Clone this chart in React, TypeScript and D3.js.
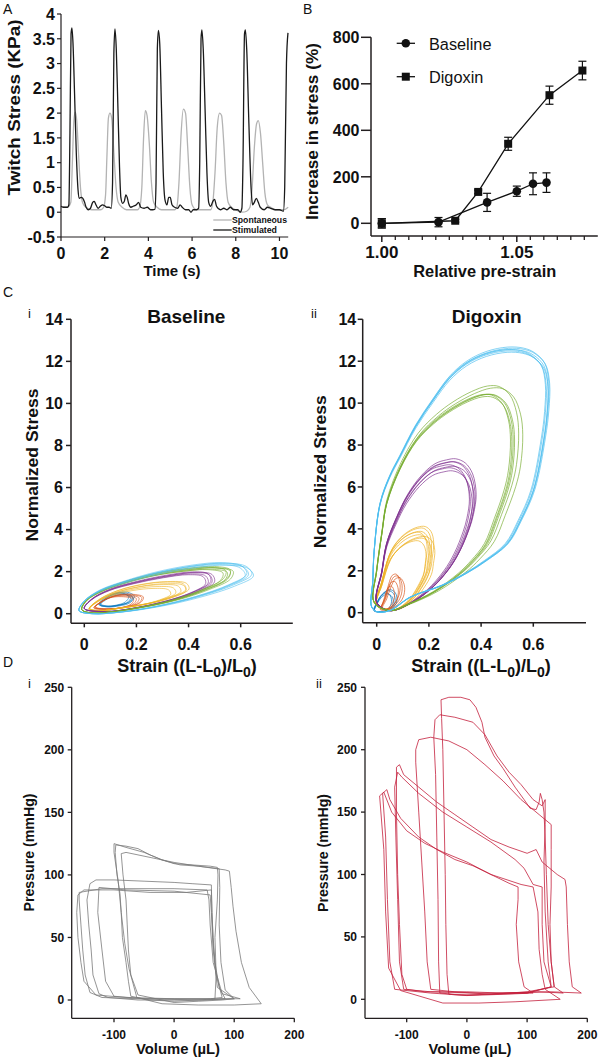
import React from "react";
import * as d3 from "d3";

type P = [number, number];
const FONT = "'Liberation Sans', Arial, Helvetica, sans-serif";
const AX = "#231f20";

// ---------------- Panel A: twitch stress traces ----------------
const aTimeTicks = [0, 2, 4, 6, 8, 10];
const aStressTicks = [-0.5, 0, 0.5, 1, 1.5, 2, 2.5, 3, 3.5, 4];
const aStimulated: P[] = [
  [0, 0.12], [0.1, 0.1], [0.3, 0.1], [0.36, 0.15], [0.41, 1.6], [0.46, 3.6], [0.5, 3.72], [0.55, 3.4], [0.62, 2.4], [0.7, 1.2], [0.78, 0.45], [0.84, 0.28], [0.92, 0.3], [1.0, 0.28], [1.08, 0.2], [1.15, 0.1], [1.25, 0.05], [1.35, 0.08], [1.45, 0.2], [1.52, 0.22], [1.6, 0.15], [1.7, 0.08], [1.8, 0.12], [1.9, 0.15], [2.0, 0.13], [2.1, 0.1], [2.2, 0.1], [2.3, 0.08],
  [2.36, 0.6], [2.42, 3.2], [2.47, 3.7], [2.53, 3.3], [2.6, 2.2], [2.68, 0.9], [2.74, 0.3], [2.82, 0.18], [2.9, 0.22], [2.97, 0.35], [3.03, 0.3], [3.1, 0.17], [3.2, 0.1], [3.3, 0.12], [3.45, 0.15], [3.55, 0.2], [3.65, 0.1], [3.8, 0.08], [3.95, 0.1], [4.1, 0.05], [4.2, 0.05], [4.3, 0.06],
  [4.35, 0.6], [4.41, 3.3], [4.46, 3.67], [4.52, 3.4], [4.6, 2.1], [4.68, 0.8], [4.76, 0.25], [4.85, 0.15], [4.93, 0.3], [5.0, 0.3], [5.08, 0.15], [5.2, 0.1], [5.35, 0.08], [5.45, 0.15], [5.55, 0.1], [5.7, 0.05], [5.85, 0.05], [5.95, 0.0], [6.05, 0.05], [6.2, 0.05], [6.3, 0.08],
  [6.35, 1.0], [6.41, 3.5], [6.45, 3.68], [6.51, 3.3], [6.6, 2.0], [6.68, 0.8], [6.76, 0.2], [6.85, 0.12], [6.95, 0.22], [7.03, 0.26], [7.12, 0.12], [7.3, 0.05], [7.45, 0.08], [7.6, 0.05], [7.75, 0.1], [7.9, 0.05], [8.1, 0.05], [8.2, 0.0], [8.28, 0.08],
  [8.33, 1.0], [8.4, 3.6], [8.44, 3.68], [8.5, 3.3], [8.6, 1.8], [8.7, 0.5], [8.77, 0.15], [8.85, 0.2], [8.94, 0.28], [9.03, 0.2], [9.12, 0.1], [9.3, 0.05], [9.45, 0.1], [9.6, 0.08], [9.8, 0.05], [10.0, 0.05], [10.18, 0.02],
  [10.24, 0.5], [10.32, 3.0], [10.39, 3.62],
];
const aSpontaneous: P[] = [
  [0, 0.12], [0.3, 0.1], [0.45, 0.2], [0.52, 1.0], [0.59, 1.85], [0.65, 2.02], [0.72, 1.85], [0.8, 1.2], [0.9, 0.45], [1.0, 0.18], [1.15, 0.1], [1.4, 0.05], [1.6, 0.05], [1.8, 0.05], [1.95, 0.1], [2.04, 0.35], [2.1, 1.1], [2.17, 1.9], [2.24, 2.0], [2.32, 1.9], [2.42, 1.2], [2.52, 0.5], [2.62, 0.2], [2.8, 0.1], [3.0, 0.05], [3.3, 0.05], [3.5, 0.05], [3.6, 0.1],
  [3.7, 0.5], [3.78, 1.5], [3.86, 2.05], [3.94, 1.95], [4.04, 1.4], [4.14, 0.6], [4.24, 0.2], [4.4, 0.1], [4.6, 0.05], [5.0, 0.05], [5.2, 0.05], [5.3, 0.1], [5.4, 0.6], [5.5, 1.6], [5.6, 2.08], [5.7, 2.0], [5.8, 1.3], [5.9, 0.5], [6.0, 0.15], [6.2, 0.05], [6.5, 0.05], [6.85, 0.05],
  [6.95, 0.2], [7.05, 0.8], [7.15, 1.7], [7.26, 2.0], [7.35, 1.95], [7.45, 1.4], [7.55, 0.6], [7.65, 0.2], [7.8, 0.1], [8.0, 0.05], [8.3, 0.0], [8.5, 0.02], [8.65, 0.1], [8.75, 0.5], [8.85, 1.3], [8.95, 1.78], [9.03, 1.85], [9.13, 1.6], [9.23, 1.0], [9.33, 0.4], [9.45, 0.15], [9.6, 0.1], [9.8, 0.05], [10.0, 0.05], [10.2, 0.05], [10.4, 0.1],
];

// ---------------- Panel B: increase in stress ----------------
const bStrainTicksMajor = [1.0, 1.05];
const bStrainTicksMinor = [1.005, 1.01, 1.015, 1.02, 1.025, 1.03, 1.035, 1.04, 1.045, 1.055, 1.06, 1.065, 1.07, 1.075];
const bStressTicks = [0, 200, 400, 600, 800];
const bBaseStrain = [1.0, 1.021, 1.039, 1.05, 1.056, 1.061];
const bBaseStress = [0, 5, 90, 138, 170, 175];
const bBaseErr = [20, 20, 39, 22, 47, 42];
const bDigStrain = [1.0, 1.0272, 1.0357, 1.0468, 1.0621, 1.0743];
const bDigStress = [0, 11, 135, 342, 551, 657];
const bDigErr = [20, 6, 8, 28, 39, 40];

// ---------------- Panel C: stress-strain loops ----------------
const cColors = ["#0072BD", "#D95319", "#EDB120", "#7E2F8E", "#77AC30", "#4DBEEE"];
const cStressTicks = [0, 2, 4, 6, 8, 10, 12, 14];
const cStrainTicks = [0, 0.2, 0.4, 0.6];
// Baseline loops (blue, red, yellow, purple, green, cyan)
const cBaseBlue: P[] = [[0.06, 0.45], [0.085, 0.75], [0.12, 0.95], [0.16, 0.98], [0.185, 0.8], [0.17, 0.55], [0.13, 0.4], [0.09, 0.35]];
const cBaseRed: P[] = [[0.04, 0.3], [0.07, 0.6], [0.11, 0.82], [0.16, 0.88], [0.21, 0.75], [0.2, 0.5], [0.15, 0.3], [0.08, 0.22]];
const cBaseYellow: P[] = [[0.02, 0.25], [0.06, 0.7], [0.13, 1.1], [0.22, 1.38], [0.31, 1.5], [0.38, 1.42], [0.39, 1.15], [0.34, 0.82], [0.25, 0.5], [0.15, 0.3], [0.06, 0.15]];
const cBasePurple: P[] = [[0.0, 0.25], [0.03, 0.7], [0.1, 1.15], [0.2, 1.5], [0.32, 1.8], [0.42, 1.95], [0.48, 1.85], [0.49, 1.5], [0.43, 1.05], [0.32, 0.6], [0.2, 0.28], [0.08, 0.1]];
const cBaseGreen: P[] = [[-0.01, 0.2], [0.01, 0.65], [0.07, 1.1], [0.16, 1.5], [0.28, 1.88], [0.4, 2.1], [0.5, 2.18], [0.56, 2.02], [0.55, 1.65], [0.47, 1.15], [0.35, 0.65], [0.22, 0.3], [0.1, 0.08], [0.02, 0.05]];
const cBaseCyan: P[] = [[-0.02, 0.15], [0.0, 0.6], [0.06, 1.1], [0.15, 1.5], [0.28, 1.95], [0.42, 2.27], [0.53, 2.38], [0.61, 2.22], [0.63, 1.85], [0.56, 1.35], [0.43, 0.8], [0.28, 0.35], [0.14, 0.08], [0.03, 0.0]];
const cBaseCycles: P[][] = [
  [[1, 1], [0.96, 0.95], [1.04, 1.04], [0.92, 1.0], [1.02, 0.92]],
  [[1, 1], [0.95, 0.96], [1.05, 1.03], [0.9, 0.92], [1.08, 1.06]],
  [[1, 1], [0.95, 0.92], [1.03, 1.02], [0.9, 0.86], [0.85, 0.8], [1.0, 0.95]],
  [[1, 1], [0.97, 0.97], [1.02, 1.01], [0.95, 0.95], [0.99, 1.02]],
  [[1, 1], [0.98, 0.97], [1.02, 1.0], [0.95, 0.96], [1.0, 1.03], [0.97, 1.01]],
  [[1, 1], [0.98, 0.98], [1.02, 1.01], [1.03, 0.97], [0.99, 1.02]],
];
// Digoxin loops
const cDigBlue: P[] = [[-0.01, 0.1], [0.0, 0.45], [0.02, 0.85], [0.045, 1.05], [0.065, 0.9], [0.07, 0.5], [0.05, 0.15], [0.02, 0.05]];
const cDigRed: P[] = [[0.02, 0.2], [0.035, 0.7], [0.05, 1.3], [0.065, 1.7], [0.082, 1.75], [0.096, 1.4], [0.095, 0.9], [0.08, 0.5], [0.05, 0.2]];
const cDigYellow: P[] = [[0.0, 0.4], [0.02, 1.5], [0.051, 2.83], [0.08, 3.4], [0.115, 3.79], [0.15, 4.0], [0.179, 4.03], [0.2, 3.8], [0.21, 3.3], [0.205, 2.6], [0.198, 2.04], [0.17, 1.3], [0.13, 0.6], [0.07, 0.15]];
const cDigPurple: P[] = [[0.0, 0.5], [0.02, 2.0], [0.038, 3.3], [0.075, 4.5], [0.115, 5.53], [0.165, 6.4], [0.217, 6.97], [0.26, 7.15], [0.294, 7.2], [0.33, 7.0], [0.357, 6.49], [0.37, 5.53], [0.36, 4.6], [0.345, 3.95], [0.31, 2.9], [0.268, 2.04], [0.2, 1.1], [0.12, 0.4], [0.05, 0.1]];
const cDigGreen: P[] = [[-0.01, 0.5], [0.0, 2.0], [0.02, 3.8], [0.038, 5.2], [0.09, 6.9], [0.153, 8.24], [0.22, 9.1], [0.281, 9.67], [0.35, 10.15], [0.408, 10.4], [0.45, 10.38], [0.49, 10.0], [0.515, 9.2], [0.523, 8.24], [0.515, 6.8], [0.498, 5.85], [0.46, 4.5], [0.421, 3.3], [0.37, 2.5], [0.319, 1.88], [0.22, 1.0], [0.12, 0.4], [0.05, 0.1]];
const cDigCyan: P[] = [[-0.02, 0.3], [-0.015, 1.5], [-0.01, 2.9], [0.013, 5.2], [0.05, 6.5], [0.089, 7.45], [0.15, 8.9], [0.217, 10.15], [0.28, 11.2], [0.345, 11.9], [0.42, 12.35], [0.5, 12.55], [0.56, 12.5], [0.6, 12.3], [0.64, 11.8], [0.656, 10.9], [0.653, 9.6], [0.64, 8.3], [0.6, 5.85], [0.55, 4.4], [0.5, 3.3], [0.42, 2.5], [0.345, 1.9], [0.25, 1.3], [0.13, 0.75], [0.05, 0.1], [0.0, 0.05]];
const cDigCycles: P[][] = [
  [[1, 1], [0.9, 0.85], [1.1, 1.05], [0.8, 0.9]],
  [[1, 1], [0.85, 0.85], [0.7, 0.72], [1.1, 0.95], [0.92, 1.05]],
  [[1, 1], [0.95, 0.92], [1.04, 1.02], [0.9, 0.85], [0.97, 0.96], [1.06, 0.9], [0.92, 0.95], [1.0, 0.88]],
  [[1, 1], [0.97, 0.96], [1.02, 1.0], [0.99, 0.94], [1.03, 1.02], [0.96, 0.98], [1.01, 0.97]],
  [[1, 1], [0.99, 0.99], [1.01, 1.0], [0.98, 1.0], [1.04, 1.04], [1.07, 1.03]],
  [[1, 1], [0.99, 0.995], [1.01, 1.005], [0.985, 1.0], [1.0, 0.99], [1.005, 1.01]],
];

// ---------------- Panel D: pressure-volume loops ----------------
const dPressTicks = [0, 50, 100, 150, 200, 250];
const dVolTicks = [-100, 0, 100, 200];
const dBaseLoops: P[][] = [
  [[-72, 3], [-40, 0], [0, -1], [40, 0], [68, 1], [70, 20], [68, 50], [72, 80], [73, 100], [72, 106], [60, 107], [30, 108], [0, 109], [-20, 112], [-40, 116], [-60, 121], [-80, 123], [-97, 124], [-98, 118], [-95, 100], [-90, 85], [-88, 70], [-86, 50], [-80, 30], [-76, 15], [-72, 3]],
  [[-62, 2], [-20, -3], [40, -4], [100, -4], [145, -3], [125, 10], [112, 30], [103, 55], [98, 75], [95, 90], [92, 103], [85, 104], [70, 105], [40, 107], [10, 108], [-20, 112], [-50, 118], [-80, 122], [-100, 125], [-100, 118], [-93, 95], [-88, 70], [-82, 45], [-75, 25], [-62, 2]],
  [[-60, 4], [0, -2], [40, -1], [80, 0], [100, 1], [85, 8], [78, 30], [75, 60], [76, 90], [75, 105], [40, 107], [0, 110], [-40, 114], [-80, 118], [-88, 117], [-85, 100], [-80, 80], [-78, 60], [-76, 40], [-72, 20], [-60, 4]],
  [[-110, 2], [-60, 0], [0, 0], [50, 0], [85, 1], [75, 10], [68, 30], [65, 50], [63, 70], [62, 92], [30, 93], [0, 94], [-50, 95], [-100, 96], [-130, 96], [-140, 93], [-145, 80], [-142, 60], [-138, 40], [-135, 20], [-125, 5], [-110, 2]],
  [[-120, 2], [-60, 1], [0, 1], [60, 1], [110, 1], [80, 5], [65, 30], [60, 60], [58, 80], [55, 88], [0, 89], [-60, 89], [-120, 89], [-158, 86], [-158, 80], [-155, 60], [-152, 40], [-148, 20], [-140, 6], [-120, 2]],
  [[-130, 4], [-80, 2], [0, 1], [60, 1], [80, 2], [70, 20], [65, 45], [63, 70], [62, 88], [20, 86], [-40, 86], [-100, 88], [-150, 88], [-160, 84], [-162, 70], [-160, 50], [-155, 30], [-150, 15], [-130, 4]],
  [[-100, 3], [-50, 1], [50, 0], [100, 1], [72, 10], [65, 40], [62, 70], [60, 84], [0, 87], [-80, 88], [-125, 90], [-127, 70], [-120, 40], [-114, 15], [-100, 3]],
];
const dDigLoops: P[][] = [
  [[-30, 4], [0, 3], [60, 5], [120, 6], [160, 5], [145, 10], [140, 30], [135, 60], [132, 100], [130, 130], [128, 150], [125, 160], [122, 165], [120, 158], [115, 152], [105, 153], [95, 160], [80, 170], [60, 185], [45, 195], [30, 210], [25, 222], [15, 234], [5, 240], [-10, 242], [-30, 242], [-43, 240], [-42, 225], [-40, 200], [-38, 150], [-36, 100], [-35, 60], [-33, 20], [-30, 4]],
  [[-45, 5], [-20, 4], [40, 4], [100, 5], [140, 10], [135, 30], [130, 70], [128, 110], [130, 140], [130, 160], [125, 155], [110, 160], [90, 172], [70, 182], [50, 195], [30, 212], [10, 222], [-20, 226], [-45, 228], [-53, 224], [-55, 210], [-52, 180], [-50, 130], [-48, 80], [-47, 30], [-45, 5]],
  [[-60, 8], [-20, 6], [40, 4], [100, 6], [145, 10], [140, 30], [138, 60], [140, 90], [140, 120], [140, 140], [120, 148], [90, 160], [60, 175], [30, 188], [0, 200], [-30, 207], [-60, 210], [-80, 208], [-85, 200], [-85, 190], [-80, 150], [-75, 110], [-70, 70], [-66, 30], [-60, 8]],
  [[-100, 8], [-70, 6], [0, 6], [60, 5], [140, 6], [190, 5], [175, 10], [170, 30], [167, 60], [165, 90], [163, 96], [150, 100], [125, 110], [115, 120], [100, 117], [70, 122], [40, 128], [10, 138], [-20, 148], [-50, 158], [-80, 170], [-105, 180], [-112, 188], [-117, 186], [-117, 150], [-115, 100], [-112, 60], [-108, 20], [-100, 8]],
  [[-105, 8], [-60, 6], [20, 5], [100, 5], [140, 10], [128, 30], [125, 60], [125, 90], [110, 92], [95, 105], [80, 112], [40, 126], [0, 138], [-40, 150], [-80, 165], [-108, 178], [-115, 182], [-120, 170], [-118, 130], [-115, 80], [-112, 30], [-105, 8]],
  [[-120, 8], [-60, 5], [0, 3], [60, 4], [110, 5], [95, 10], [86, 30], [82, 60], [85, 80], [85, 90], [70, 93], [40, 100], [10, 107], [-20, 112], [-50, 120], [-80, 130], [-110, 145], [-128, 160], [-133, 168], [-140, 165], [-135, 130], [-132, 80], [-128, 30], [-120, 8]],
  [[-110, 7], [-40, -3], [20, -3], [80, -2], [155, 0], [130, 8], [125, 20], [120, 40], [118, 70], [110, 90], [90, 92], [40, 100], [0, 110], [-40, 118], [-70, 125], [-100, 135], [-125, 150], [-138, 166], [-145, 163], [-138, 120], [-135, 70], [-130, 25], [-110, 7]],
];

// ---------------- helpers ----------------
type Scale = d3.ScaleLinear<number, number>;

function LeftAxis(props: { scale: Scale; x: number; ticks: number[]; y0: number; y1: number; fs: number; tl: number; gap: number; sw: number; fmt?: (v: number) => string }) {
  const { scale, x, ticks, y0, y1, fs, tl, gap, sw } = props;
  const fmt = props.fmt || ((v: number) => String(v));
  return (
    <g>
      <line x1={x} x2={x} y1={y0} y2={y1} stroke={AX} strokeWidth={sw} />
      {ticks.map((t) => (
        <g key={t}>
          <line x1={x - tl} x2={x} y1={scale(t)} y2={scale(t)} stroke={AX} strokeWidth={sw} />
          <text x={x - tl - gap} y={scale(t)} dy="0.36em" textAnchor="end" fontSize={fs} fontWeight="bold" fontFamily={FONT} fill="#111">{fmt(t)}</text>
        </g>
      ))}
    </g>
  );
}

function BottomAxis(props: { scale: Scale; y: number; ticks: number[]; x0: number; x1: number; fs: number; tl: number; labelY: number; sw: number; fmt?: (v: number) => string }) {
  const { scale, y, ticks, x0, x1, fs, tl, labelY, sw } = props;
  const fmt = props.fmt || ((v: number) => String(v));
  return (
    <g>
      <line x1={x0} x2={x1} y1={y} y2={y} stroke={AX} strokeWidth={sw} />
      {ticks.map((t) => (
        <g key={t}>
          <line x1={scale(t)} x2={scale(t)} y1={y} y2={y + tl} stroke={AX} strokeWidth={sw} />
          <text x={scale(t)} y={labelY} textAnchor="middle" fontSize={fs} fontWeight="bold" fontFamily={FONT} fill="#111">{fmt(t)}</text>
        </g>
      ))}
    </g>
  );
}

function Label(props: { x: number; y: number; text: string; fs: number; bold?: boolean; rot?: boolean; len?: number; anchor?: string }) {
  const { x, y, text, fs, bold = true, rot = false, len, anchor = "middle" } = props;
  return (
    <text
      transform={`translate(${x},${y})${rot ? " rotate(-90)" : ""}`}
      textAnchor={anchor as any}
      fontSize={fs}
      fontWeight={bold ? "bold" : "normal"}
      fontFamily={FONT}
      fill="#111"
      {...(len ? { textLength: len, lengthAdjust: "spacingAndGlyphs" } : {})}
    >
      {text}
    </text>
  );
}

function StrainLabel({ x, y }: { x: number; y: number }) {
  return (
    <text x={x} y={y} textAnchor="middle" fontSize={18} fontWeight="bold" fontFamily={FONT} fill="#111">
      Strain ((L-L<tspan fontSize={14} dy={5}>0</tspan><tspan dy={-5}>)/L</tspan><tspan fontSize={14} dy={5}>0</tspan><tspan dy={-5}>)</tspan>
    </text>
  );
}

function LoopGroup(props: { loops: P[][]; cycles: P[][]; xs: Scale; ys: Scale; sw: number; op: number }) {
  const { loops, cycles, xs, ys, sw, op } = props;
  const line = d3.line<P>().x((d) => xs(d[0])).y((d) => ys(d[1])).curve(d3.curveCatmullRomClosed.alpha(0.5));
  return (
    <g>
      {loops.map((lp, i) =>
        cycles[i].map((c, j) => (
          <path key={i + "-" + j} d={line(lp.map((p) => [p[0] * c[0], p[1] * c[1]] as P)) || ""} fill="none" stroke={cColors[i]} strokeWidth={sw} strokeOpacity={op} />
        ))
      )}
    </g>
  );
}

export default function App() {
  // ---- A ----
  const xA = d3.scaleLinear().domain([0, 10.4]).range([61, 288.2]);
  const yA = d3.scaleLinear().domain([-0.5, 4]).range([237, 14]);
  const lineA = d3.line<P>().x((d) => xA(d[0])).y((d) => yA(d[1])).curve(d3.curveMonotoneX);

  // ---- B ----
  const xB = d3.scaleLinear().domain([0.996, 1.08]).range([371, 597.8]);
  const yB = d3.scaleLinear().domain([0, 800]).range([223.3, 37.3]);
  const baseB: P[] = bBaseStrain.map((s, i) => [s, bBaseStress[i]]);
  const digB: P[] = bDigStrain.map((s, i) => [s, bDigStress[i]]);
  const lineB = d3.line<P>().x((d) => xB(d[0])).y((d) => yB(d[1]));

  // ---- C ----
  const xC1 = d3.scaleLinear().domain([0, 0.6]).range([84.3, 240.7]);
  const yC1 = d3.scaleLinear().domain([0, 14]).range([613.7, 319.3]);
  const xC2 = d3.scaleLinear().domain([0, 0.6]).range([376.7, 533.3]);
  const yC2 = d3.scaleLinear().domain([0, 14]).range([612.7, 319.3]);

  // ---- D ----
  const xD1 = d3.scaleLinear().domain([-100, 200]).range([114, 294.3]);
  const yD1 = d3.scaleLinear().domain([0, 250]).range([1000, 687.3]);
  const xD2 = d3.scaleLinear().domain([-100, 200]).range([406.7, 587.3]);
  const yD2 = d3.scaleLinear().domain([0, 250]).range([999.3, 687.3]);
  const lineD1 = d3.line<P>().x((d) => xD1(d[0])).y((d) => yD1(d[1])).curve(d3.curveLinearClosed);
  const lineD2 = d3.line<P>().x((d) => xD2(d[0])).y((d) => yD2(d[1])).curve(d3.curveLinearClosed);

  const fmtA = (v: number) => (v === -0.5 ? "-0.5" : String(v));

  return (
    <svg width={602} height={1061} style={{ position: "absolute", left: 0, top: 0, background: "#fff" }}>
      <rect width={602} height={1061} fill="#fff" />

      {/* ===== Panel A ===== */}
      <Label x={3} y={13.5} text="A" fs={14} bold={false} anchor="start" />
      <path d={lineA(aSpontaneous) || ""} fill="none" stroke="#b3b3b3" strokeWidth={1.3} />
      <path d={lineA(aStimulated) || ""} fill="none" stroke="#1a1a1a" strokeWidth={1.3} />
      <LeftAxis scale={yA} x={61} ticks={aStressTicks} y0={14} y1={237} fs={16} tl={4} gap={2} sw={1.2} fmt={fmtA} />
      <BottomAxis scale={xA} y={237} ticks={aTimeTicks} x0={61} x1={288.2} fs={16} tl={4} labelY={259} sw={1.2} />
      <Label x={20} y={107.5} text="Twitch Stress (KPa)" fs={16} rot len={176} />
      <Label x={172} y={276} text="Time (s)" fs={15} />
      <line x1={213.3} x2={231.7} y1={220} y2={220} stroke="#b3b3b3" strokeWidth={1.3} />
      <line x1={213.3} x2={231.7} y1={230} y2={230} stroke="#1a1a1a" strokeWidth={1.3} />
      <Label x={232} y={223} text="Spontaneous" fs={9} anchor="start" len={55} />
      <Label x={232} y={233.3} text="Stimulated" fs={9} anchor="start" len={45} />

      {/* ===== Panel B ===== */}
      <Label x={303} y={14} text="B" fs={14} bold={false} anchor="start" />
      <line x1={371} x2={371} y1={37.3} y2={236} stroke={AX} strokeWidth={1.5} />
      {bStressTicks.map((t) => (
        <g key={t}>
          <line x1={361} x2={371} y1={yB(t)} y2={yB(t)} stroke={AX} strokeWidth={1.5} />
          <text x={359.5} y={yB(t)} dy="0.36em" textAnchor="end" fontSize={16} fontWeight="bold" fontFamily={FONT} fill="#111">{t}</text>
        </g>
      ))}
      <line x1={371} x2={597.8} y1={236} y2={236} stroke={AX} strokeWidth={1.5} />
      {bStrainTicksMajor.map((t) => (
        <g key={t}>
          <line x1={xB(t)} x2={xB(t)} y1={236} y2={242} stroke={AX} strokeWidth={1.5} />
          <text x={xB(t)} y={258} textAnchor="middle" fontSize={17} fontWeight="bold" fontFamily={FONT} fill="#111">{t.toFixed(2)}</text>
        </g>
      ))}
      {bStrainTicksMinor.map((t) => (
        <line key={t} x1={xB(t)} x2={xB(t)} y1={236} y2={240} stroke={AX} strokeWidth={1.3} />
      ))}
      <Label x={318} y={131.5} text="Increase in stress (%)" fs={17} rot len={177} />
      <Label x={484.7} y={277} text="Relative pre-strain" fs={16.5} len={143} />
      <path d={lineB(digB) || ""} fill="none" stroke="#111" strokeWidth={1.3} />
      <path d={lineB(baseB) || ""} fill="none" stroke="#111" strokeWidth={1.3} />
      {baseB.map((d, i) => (
        <g key={"be" + i}>
          <line x1={xB(d[0])} x2={xB(d[0])} y1={yB(d[1] - bBaseErr[i])} y2={yB(d[1] + bBaseErr[i])} stroke="#111" strokeWidth={1.2} />
          <line x1={xB(d[0]) - 4} x2={xB(d[0]) + 4} y1={yB(d[1] - bBaseErr[i])} y2={yB(d[1] - bBaseErr[i])} stroke="#111" strokeWidth={1.2} />
          <line x1={xB(d[0]) - 4} x2={xB(d[0]) + 4} y1={yB(d[1] + bBaseErr[i])} y2={yB(d[1] + bBaseErr[i])} stroke="#111" strokeWidth={1.2} />
          <circle cx={xB(d[0])} cy={yB(d[1])} r={4.3} fill="#111" />
        </g>
      ))}
      {digB.map((d, i) => (
        <g key={"de" + i}>
          <line x1={xB(d[0])} x2={xB(d[0])} y1={yB(d[1] - bDigErr[i])} y2={yB(d[1] + bDigErr[i])} stroke="#111" strokeWidth={1.2} />
          <line x1={xB(d[0]) - 4} x2={xB(d[0]) + 4} y1={yB(d[1] - bDigErr[i])} y2={yB(d[1] - bDigErr[i])} stroke="#111" strokeWidth={1.2} />
          <line x1={xB(d[0]) - 4} x2={xB(d[0]) + 4} y1={yB(d[1] + bDigErr[i])} y2={yB(d[1] + bDigErr[i])} stroke="#111" strokeWidth={1.2} />
          <rect x={xB(d[0]) - 4} y={yB(d[1]) - 4} width={8} height={8} fill="#111" />
        </g>
      ))}
      <line x1={396.7} x2={415} y1={43.3} y2={43.3} stroke="#111" strokeWidth={1.3} />
      <circle cx={405.8} cy={43.3} r={4.3} fill="#111" />
      <Label x={429} y={49.6} text="Baseline" fs={16.3} bold={false} anchor="start" />
      <line x1={396.7} x2={415} y1={76.7} y2={76.7} stroke="#111" strokeWidth={1.3} />
      <rect x={401.8} y={72.7} width={8} height={8} fill="#111" />
      <Label x={429} y={82.8} text="Digoxin" fs={16.3} bold={false} anchor="start" />

      {/* ===== Panel C ===== */}
      <Label x={3} y={297} text="C" fs={14} bold={false} anchor="start" />
      <Label x={28} y={318} text="i" fs={13} bold={false} anchor="start" />
      <Label x={311} y={318} text="ii" fs={13} bold={false} anchor="start" />
      <LoopGroup loops={[cBaseBlue, cBaseRed, cBaseYellow, cBasePurple, cBaseGreen, cBaseCyan]} cycles={cBaseCycles} xs={xC1} ys={yC1} sw={0.7} op={0.85} />
      <LoopGroup loops={[cDigBlue, cDigRed, cDigYellow, cDigPurple, cDigGreen, cDigCyan]} cycles={cDigCycles} xs={xC2} ys={yC2} sw={0.8} op={0.85} />
      <LeftAxis scale={yC1} x={71} ticks={cStressTicks} y0={319.3} y1={623.3} fs={16} tl={5} gap={3} sw={1.5} />
      <BottomAxis scale={xC1} y={623.3} ticks={cStrainTicks} x0={71} x1={292.8} fs={16} tl={4} labelY={650} sw={1.5} />
      <LeftAxis scale={yC2} x={362.7} ticks={cStressTicks} y0={319.3} y1={622.7} fs={16} tl={5} gap={1.5} sw={1.5} />
      <BottomAxis scale={xC2} y={622.7} ticks={cStrainTicks} x0={362.7} x1={586} fs={16} tl={4} labelY={650} sw={1.5} />
      <Label x={186.3} y={323.3} text="Baseline" fs={19} />
      <Label x={486.7} y={323.3} text="Digoxin" fs={19} />
      <Label x={37.5} y={465} text="Normalized Stress" fs={17} rot len={153} />
      <Label x={326} y={471.7} text="Normalized Stress" fs={17} rot len={153} />
      <StrainLabel x={187} y={671.5} />
      <StrainLabel x={481} y={671.5} />

      {/* ===== Panel D ===== */}
      <Label x={3} y={667} text="D" fs={14} bold={false} anchor="start" />
      <Label x={28} y={688} text="i" fs={13} bold={false} anchor="start" />
      <Label x={316} y={688} text="ii" fs={13} bold={false} anchor="start" />
      {dBaseLoops.map((lp, i) => (
        <path key={"g" + i} d={lineD1(lp) || ""} fill="none" stroke="#7a7a7a" strokeWidth={0.8} strokeLinejoin="round" />
      ))}
      {dDigLoops.map((lp, i) => (
        <path key={"r" + i} d={lineD2(lp) || ""} fill="none" stroke="#c4203c" strokeWidth={0.8} strokeLinejoin="round" />
      ))}
      <LeftAxis scale={yD1} x={71.7} ticks={dPressTicks} y0={687.3} y1={1018.3} fs={12} tl={4} gap={3.5} sw={1.3} />
      <BottomAxis scale={xD1} y={1018.3} ticks={dVolTicks} x0={71.7} x1={294.3} fs={12} tl={4} labelY={1039.3} sw={1.3} />
      <LeftAxis scale={yD2} x={365} ticks={dPressTicks} y0={687.3} y1={1018.3} fs={12} tl={4} gap={4} sw={1.3} />
      <BottomAxis scale={xD2} y={1018.3} ticks={dVolTicks} x0={365} x1={587.3} fs={12} tl={4} labelY={1039.3} sw={1.3} />
      <Label x={34} y={852.5} text="Pressure (mmHg)" fs={14} rot len={118} />
      <Label x={328} y={853} text="Pressure (mmHg)" fs={14} rot len={118} />
      <Label x={178} y={1054} text="Volume (µL)" fs={14} len={84} />
      <Label x={470} y={1054} text="Volume (µL)" fs={14} len={83} />
    </svg>
  );
}
